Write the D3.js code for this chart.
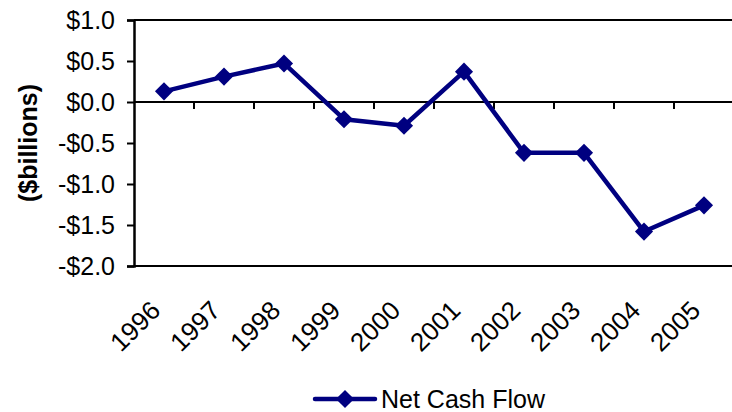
<!DOCTYPE html>
<html lang="en">
<head>
<meta charset="UTF-8"/>
<title>Net Cash Flow</title>
<script src="https://d3js.org/d3.v7.min.js"></script>
<style>
  body { margin: 0; background: #fff; }
  svg { display: block; font-family: "Liberation Sans", Arial, sans-serif; }
</style>
</head>
<body>
<script>
var years = ["1996","1997","1998","1999","2000","2001","2002","2003","2004","2005"];
var netCashFlow = [0.13, 0.31, 0.47, -0.21, -0.29, 0.37, -0.62, -0.62, -1.58, -1.26];
var yTicks = [1.0, 0.5, 0.0, -0.5, -1.0, -1.5, -2.0];
var seriesName = "Net Cash Flow";

var w = 732, h = 412;
var plotLeft = 134, plotRight = 734, plotTop = 20, plotBottom = 266;
var navy = "#000080";

var svg = d3.select("body").append("svg")
    .attr("width", w)
    .attr("height", h);

var x = d3.scaleBand().domain(years).range([plotLeft, plotRight]);
var y = d3.scaleLinear().domain([-2, 1]).range([plotBottom, plotTop]);

function fmt(v) {
    return (v < 0 ? "-$" : "$") + Math.abs(v).toFixed(1);
}

// plot frame lines (top and bottom)
svg.append("line")
    .attr("x1", plotLeft).attr("x2", w).attr("y1", y(1)).attr("y2", y(1))
    .attr("stroke", "#000").attr("stroke-width", 2);
svg.append("line")
    .attr("x1", plotLeft).attr("x2", w).attr("y1", y(-2)).attr("y2", y(-2))
    .attr("stroke", "#000").attr("stroke-width", 2);

// y axis
var yAxis = svg.append("g")
    .attr("transform", "translate(" + plotLeft + ",0)")
    .call(d3.axisLeft(y).tickValues(yTicks).tickFormat(fmt).tickSize(7).tickPadding(12));
yAxis.select(".domain").attr("stroke-width", 2.5);
yAxis.selectAll(".tick line").attr("stroke-width", 2);
yAxis.selectAll("text").attr("font-size", 25).attr("fill", "#000")
    .attr("font-family", "Liberation Sans, Arial, sans-serif");

// x axis on zero line
var xAxis = svg.append("g")
    .attr("transform", "translate(0," + y(0) + ")")
    .call(d3.axisBottom(x).tickSize(0).tickFormat(""));
xAxis.select(".domain").attr("stroke-width", 2).attr("d", "M" + plotLeft + ",0H" + w);

// tick marks between categories
svg.append("g").selectAll("line")
    .data(years.slice(1))
    .join("line")
    .attr("x1", d => x(d)).attr("x2", d => x(d))
    .attr("y1", y(0)).attr("y2", y(0) + 7)
    .attr("stroke", "#000").attr("stroke-width", 2);

// rotated category labels
svg.append("g").selectAll("text")
    .data(years)
    .join("text")
    .attr("transform", d => "translate(" + (x(d) + x.bandwidth() / 2 - 2) + "," + (plotBottom + 46) + ") rotate(-45)")
    .attr("text-anchor", "end")
    .attr("font-size", 26)
    .attr("fill", "#000")
    .text(d => d);

// y axis title
svg.append("text")
    .attr("transform", "translate(37," + ((plotTop + plotBottom) / 2) + ") rotate(-90)")
    .attr("text-anchor", "middle")
    .attr("font-size", 25)
    .attr("font-weight", "bold")
    .text("($billions)");

// line
var line = d3.line()
    .x((d, i) => x(years[i]) + x.bandwidth() / 2)
    .y(d => y(d));

svg.append("path")
    .datum(netCashFlow)
    .attr("d", line)
    .attr("fill", "none")
    .attr("stroke", navy)
    .attr("stroke-width", 4.5)
    .attr("stroke-linejoin", "round");

var diamond = d3.symbol().type(d3.symbolDiamond2).size(210);
svg.append("g").selectAll("path")
    .data(netCashFlow)
    .join("path")
    .attr("transform", (d, i) => "translate(" + (x(years[i]) + x.bandwidth() / 2) + "," + y(d) + ")")
    .attr("d", diamond)
    .attr("fill", navy);

// legend
var lg = svg.append("g").attr("transform", "translate(315,399)");
lg.append("line")
    .attr("x1", 0).attr("x2", 60)
    .attr("stroke", navy).attr("stroke-width", 4.5).attr("stroke-linecap", "round");
lg.append("path")
    .attr("transform", "translate(30,0)")
    .attr("d", diamond)
    .attr("fill", navy);
lg.append("text")
    .attr("x", 66).attr("y", 9)
    .attr("font-size", 25)
    .attr("fill", "#000")
    .text(seriesName);
</script>
</body>
</html>
